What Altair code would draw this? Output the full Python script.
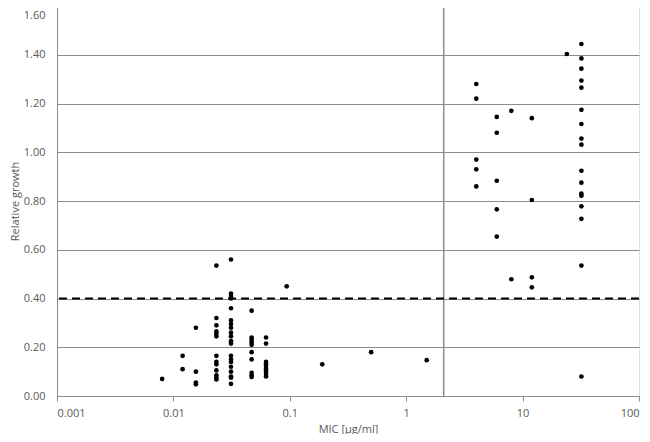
import altair as alt
import pandas as pd

# MIC values (µg/ml) and relative growth
mic = (
    [0.008]
    + [0.012] * 2
    + [0.0156] * 4
    + [0.0234] * 13
    + [0.03125] * 20
    + [0.047] * 10
    + [0.0625] * 9
    + [0.094, 0.19, 0.5, 1.5]
    + [4] * 5
    + [6] * 5
    + [8] * 2
    + [12] * 4
    + [24]
    + [32] * 17
)
growth = (
    [0.07]
    + [0.165, 0.11]
    + [0.28, 0.10, 0.055, 0.048]
    + [0.535, 0.32, 0.29, 0.265, 0.255, 0.245, 0.165, 0.14, 0.13, 0.105, 0.085, 0.075, 0.068]
    + [0.56, 0.42, 0.41, 0.40, 0.36, 0.31, 0.295, 0.28, 0.26, 0.245, 0.225, 0.215,
       0.165, 0.15, 0.14, 0.12, 0.10, 0.08, 0.075, 0.05]
    + [0.35, 0.24, 0.23, 0.22, 0.21, 0.18, 0.15, 0.095, 0.085, 0.078]
    + [0.24, 0.215, 0.14, 0.13, 0.12, 0.11, 0.10, 0.09, 0.08]
    + [0.45, 0.13, 0.18, 0.147]
    + [1.28, 1.22, 0.97, 0.93, 0.86]
    + [1.145, 1.08, 0.883, 0.766, 0.654]
    + [1.17, 0.479]
    + [1.14, 0.804, 0.487, 0.446]
    + [1.403]
    + [1.444, 1.385, 1.343, 1.294, 1.265, 1.174, 1.116, 1.056, 1.031, 0.924,
       0.875, 0.830, 0.822, 0.778, 0.727, 0.535, 0.08]
)

x_ticks = [0.001, 0.01, 0.1, 1, 10, 100]
y_ticks = [0.0, 0.2, 0.4, 0.6, 0.8, 1.0, 1.2, 1.4, 1.6]
threshold_growth = [0.4]
breakpoint_mic = [2.1]

df = pd.DataFrame({"mic": mic, "growth": growth})

FONT = "Open Sans"
GRAY = "#8c8c8c"
LABEL = "#595959"

xscale = alt.Scale(type="log", domain=[0.001, 100], nice=False)
yscale = alt.Scale(domain=[0, 1.6], nice=False)

points = alt.Chart(df).mark_circle(size=22, color="black", opacity=1).encode(
    x=alt.X(
        "mic:Q",
        scale=xscale,
        axis=alt.Axis(
            title="MIC [µg/ml]",
            values=x_ticks,
            format="~g",
            grid=False,
            domainColor=GRAY,
            tickColor=GRAY,
            tickSize=5,
            labelPadding=6,
            labelColor=LABEL,
            labelFontSize=11,
            labelFont=FONT,
            titleFont=FONT,
            titleFontSize=11,
            titleFontWeight="normal",
            titleColor=LABEL,
            titlePadding=5,
        ),
    ),
    y=alt.Y(
        "growth:Q",
        scale=yscale,
        axis=alt.Axis(
            title="Relative growth",
            values=y_ticks,
            format=".2f",
            grid=True,
            gridColor=GRAY,
            gridWidth=1,
            domainColor=GRAY,
            ticks=False,
            labelPadding=12,
            labelBaseline=alt.ConditionalAxisLabelBaseline(
                condition={"test": "datum.value >= 1.59", "value": "top"},
                value="middle",
            ),
            labelOffset=alt.ConditionalAxisNumber(
                condition={"test": "datum.value >= 1.59", "value": 3},
                value=0,
            ),
            labelColor=LABEL,
            labelFontSize=11,
            labelFont=FONT,
            titleFont=FONT,
            titleFontSize=11,
            titleFontWeight="normal",
            titleColor=LABEL,
            titlePadding=3,
        ),
    ),
)

hline = alt.Chart(pd.DataFrame({"y": threshold_growth})).mark_rule(
    color="black", strokeWidth=2, strokeDash=[8, 5]
).encode(y=alt.Y("y:Q", scale=yscale))

vline = alt.Chart(pd.DataFrame({"x": breakpoint_mic})).mark_rule(
    color=GRAY, strokeWidth=1.5
).encode(x=alt.X("x:Q", scale=xscale))

chart = (
    alt.layer(vline, hline, points)
    .properties(
        width=582,
        height=390,
        autosize=alt.AutoSizeParams(type="none"),
        padding={"left": 49, "top": -2, "right": 3, "bottom": 38},
    )
    .configure_view(stroke=GRAY, strokeWidth=1)
    .configure(background="white")
)

chart.save("out.html", embed_options={"renderer": "svg", "actions": False})
